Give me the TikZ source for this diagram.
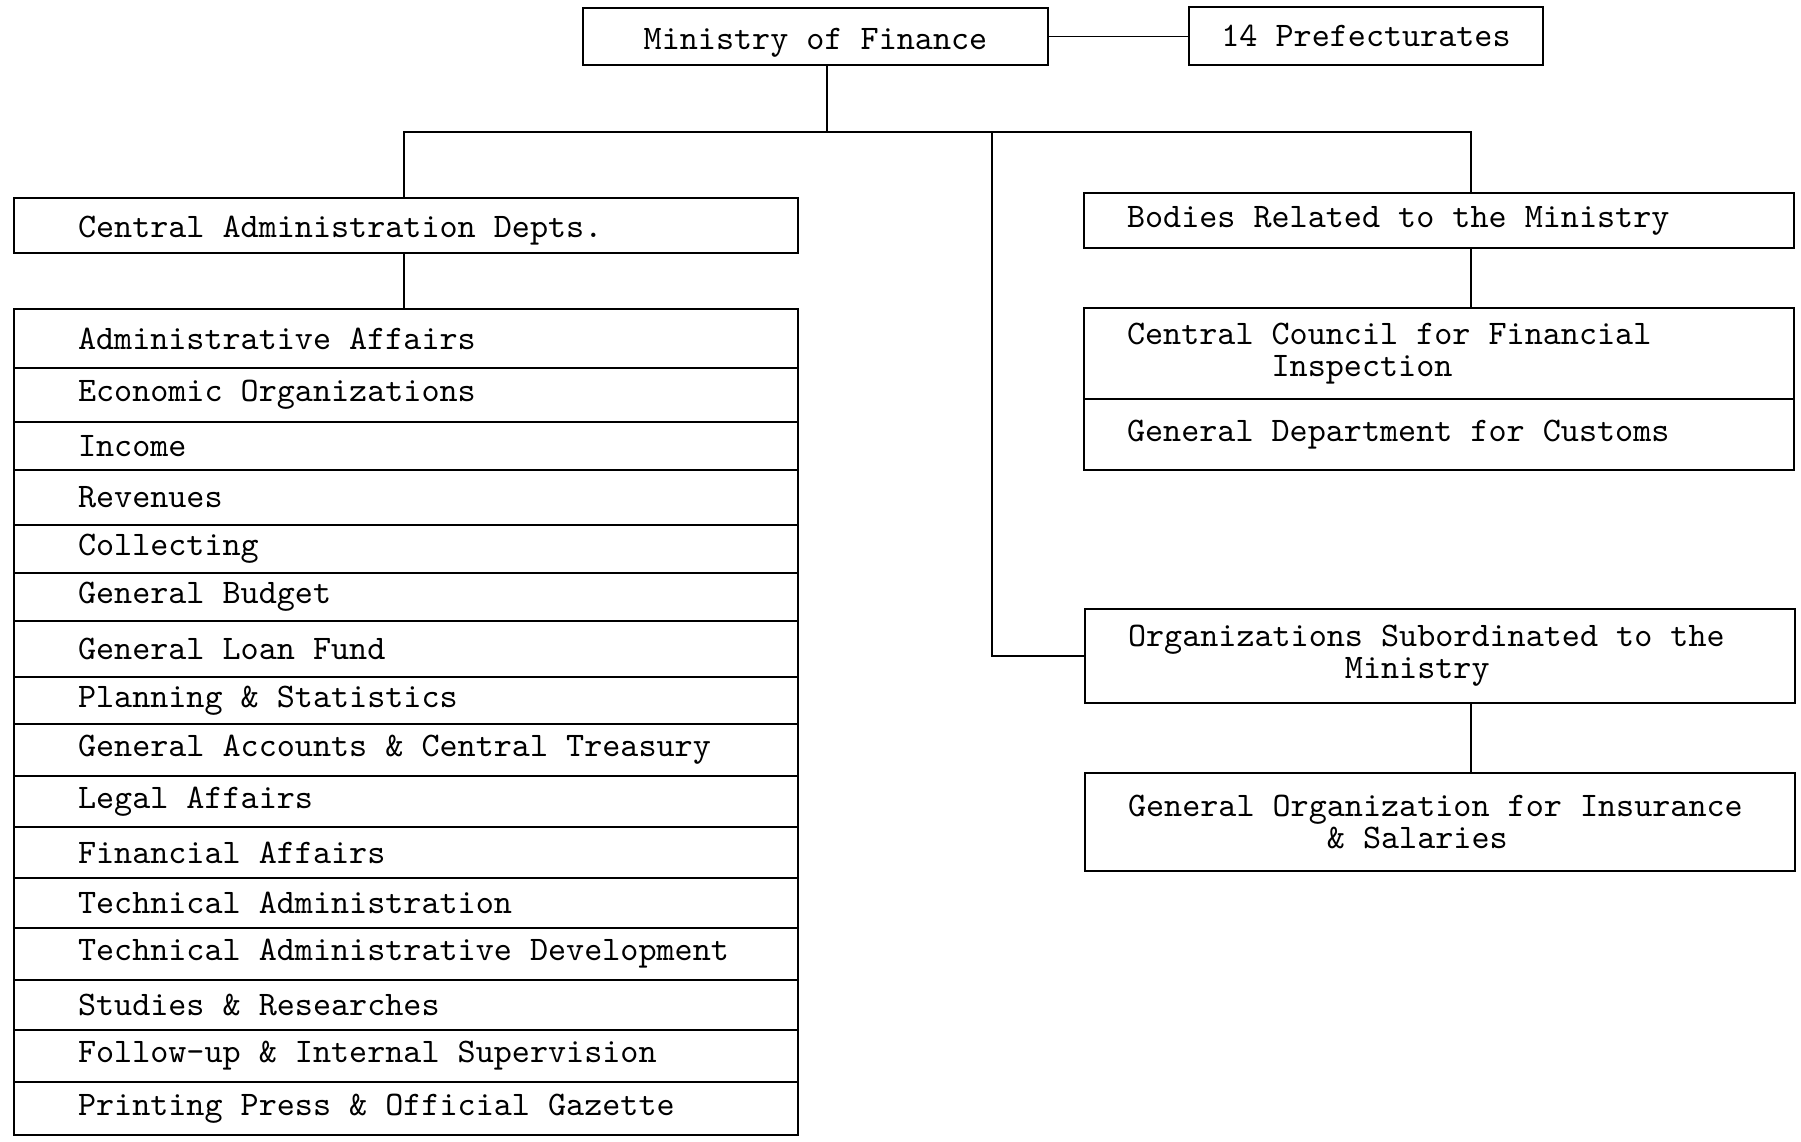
\documentclass[tikz,border=0pt]{standalone}
\usepackage{fontspec}
\usetikzlibrary{positioning}
\newcommand{\chskip}[1]{\hspace*{#1\fontcharwd\font`M}}
\newcommand{\droptext}[2]{\raisebox{-#1}[\height][\depth]{#2}}

\begin{document}
\begin{tikzpicture}[x=0.1mm, y=-0.1mm,
  box/.style={draw, line width=0.75pt, inner sep=0pt, outer sep=0pt,
              font=\ttfamily\fontsize{9.8}{9}\selectfont},
  title/.style={box, align=center},
  lbox/.style={box, inner xsep=6.4mm, text width=65.6mm, align=flush left},
  rbox/.style={box, inner xsep=4.3mm, text width=62.4mm, align=flush left},
  link/.style={line width=0.45pt}]
  \useasboundingbox (0,0) rectangle (1801,1141);

  % top level
  \node[title, minimum width=46.5mm, minimum height=5.7mm] (mof) at (815.5,36.5) {\droptext{0.6mm}{Ministry of Finance}};
  \node[title, minimum width=35.4mm, minimum height=5.8mm] (pref) at (1366,36) {14 Prefecturates};

  % central administration
  \node[lbox, minimum height=5.5mm] (cad) at (406,225.5) {\droptext{0.5mm}{Central Administration Depts.}};
  \foreach \txt/\h [count=\i] in {Administrative Affairs/5.9, Economic Organizations/5.4,
      Income/4.8, Revenues/5.5, Collecting/4.8, General Budget/4.8, General Loan Fund/5.6,
      Planning \& Statistics/4.7, General Accounts \& Central Treasury/5.2, Legal Affairs/5.1,
      Financial Affairs/5.1, Technical Administration/5.0, Technical Administrative Development/5.2,
      Studies \& Researches/5.0, Follow-up \& Internal Supervision/5.2,
      Printing Press \& Official Gazette/5.3} {
    \ifnum\i=1
      \node[lbox, minimum height=\h mm, anchor=north] (row\i) at (406,309) {\txt};
    \else
      \pgfmathtruncatemacro{\prev}{\i-1}
      \node[lbox, minimum height=\h mm, below=0pt of row\prev] (row\i) {\txt};
    \fi
  }

  % related and subordinated bodies
  \node[rbox, minimum height=5.5mm] (brm) at (1439,220.5) {Bodies Related to the Ministry};
  \node[rbox, minimum height=9.1mm] (ccfi) at (1439,353.5) {Central Council for Financial\\\chskip{8}Inspection};
  \node[rbox, minimum height=7.1mm, below=0pt of ccfi] (gdc) {General Department for Customs};
  \node[rbox, minimum height=9.4mm] (osm) at (1440,656) {Organizations Subordinated to the\\\chskip{12}Ministry};
  \node[rbox, minimum height=9.8mm] (goi) at (1440,822) {General Organization for Insurance\\\chskip{11}\& Salaries};

  % connectors
  \coordinate (hub) at (827,132);
  \coordinate (lj) at (404,132);
  \coordinate (mj) at (992,132);
  \coordinate (rj) at (1471,132);
  \draw[link] (mof.east) -- (mof.east -| pref.west);
  \draw[link] (mof.south -| hub) -- (hub);
  \draw[link] (lj |- cad.north) -- (lj) -- (rj) -- (rj |- brm.north);
  \draw[link] (mj) |- (osm.west);
  \draw[link] (cad.south -| lj) -- (lj |- row1.north);
  \draw[link] (brm.south -| rj) -- (rj |- ccfi.north);
  \draw[link] (osm.south -| rj) -- (rj |- goi.north);
\end{tikzpicture}
\end{document}
